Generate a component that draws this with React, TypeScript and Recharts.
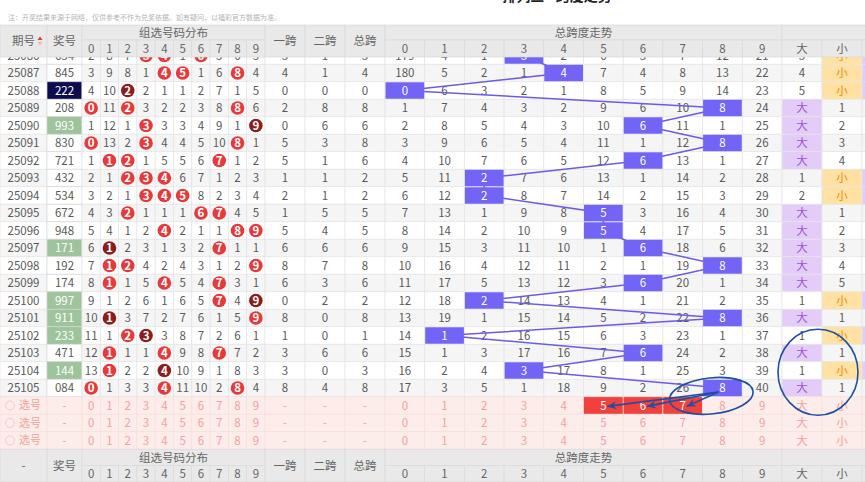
import { ComposedChart, XAxis, YAxis, Scatter, ReferenceLine, ReferenceDot } from 'recharts';

// ---- data ----
const PERIODS = [
  '25086', '25087', '25088', '25089', '25090', '25091', '25092', '25093', '25094', '25095',
  '25096', '25097', '25098', '25099', '25100', '25101', '25102', '25103', '25104', '25105',
];
const DRAWS = [
  '634', '845', '222', '208', '993', '830', '721', '432', '534', '672',
  '948', '171', '192', '174', '997', '911', '233', '471', '144', '084',
];
const YI_KUA = [3, 4, 0, 2, 0, 5, 5, 1, 2, 1, 5, 6, 8, 6, 0, 8, 1, 3, 3, 8];
const ER_KUA = [1, 1, 0, 8, 6, 3, 1, 1, 1, 5, 4, 6, 7, 3, 2, 0, 0, 6, 0, 4];
const ZONG_KUA = [3, 4, 0, 8, 6, 8, 6, 2, 2, 5, 5, 6, 8, 6, 2, 8, 1, 6, 3, 8];

// omission counts for digits 0-9 (0 = hit)
const DIST_MISS = [
  [2, 8, 7, 0, 0, 1, 0, 5, 6, 3],
  [3, 9, 8, 1, 0, 0, 1, 6, 0, 4],
  [4, 10, 0, 2, 1, 1, 2, 7, 1, 5],
  [0, 11, 0, 3, 2, 2, 3, 8, 0, 6],
  [1, 12, 1, 0, 3, 3, 4, 9, 1, 0],
  [0, 13, 2, 0, 4, 4, 5, 10, 0, 1],
  [1, 0, 0, 1, 5, 5, 6, 0, 1, 2],
  [2, 1, 0, 0, 0, 6, 7, 1, 2, 3],
  [3, 2, 1, 0, 0, 0, 8, 2, 3, 4],
  [4, 3, 0, 1, 1, 1, 0, 0, 4, 5],
  [5, 4, 1, 2, 0, 2, 1, 1, 0, 0],
  [6, 0, 2, 3, 1, 3, 2, 0, 1, 1],
  [7, 0, 0, 4, 2, 4, 3, 1, 2, 0],
  [8, 0, 1, 5, 0, 5, 4, 0, 3, 1],
  [9, 1, 2, 6, 1, 6, 5, 0, 4, 0],
  [10, 0, 3, 7, 2, 7, 6, 1, 5, 0],
  [11, 1, 0, 0, 3, 8, 7, 2, 6, 1],
  [12, 0, 1, 1, 0, 9, 8, 0, 7, 2],
  [13, 0, 2, 2, 0, 10, 9, 1, 8, 3],
  [0, 1, 3, 3, 0, 11, 10, 2, 0, 4],
];

// omission counts for span 0-9 (0 = hit)
const TREND_MISS = [
  [179, 4, 1, 0, 2, 6, 3, 7, 12, 21],
  [180, 5, 2, 1, 0, 7, 4, 8, 13, 22],
  [0, 6, 3, 2, 1, 8, 5, 9, 14, 23],
  [1, 7, 4, 3, 2, 9, 6, 10, 0, 24],
  [2, 8, 5, 4, 3, 10, 0, 11, 1, 25],
  [3, 9, 6, 5, 4, 11, 1, 12, 0, 26],
  [4, 10, 7, 6, 5, 12, 0, 13, 1, 27],
  [5, 11, 0, 7, 6, 13, 1, 14, 2, 28],
  [6, 12, 0, 8, 7, 14, 2, 15, 3, 29],
  [7, 13, 1, 9, 8, 0, 3, 16, 4, 30],
  [8, 14, 2, 10, 9, 0, 4, 17, 5, 31],
  [9, 15, 3, 11, 10, 1, 0, 18, 6, 32],
  [10, 16, 4, 12, 11, 2, 1, 19, 0, 33],
  [11, 17, 5, 13, 12, 3, 0, 20, 1, 34],
  [12, 18, 0, 14, 13, 4, 1, 21, 2, 35],
  [13, 19, 1, 15, 14, 5, 2, 22, 0, 36],
  [14, 0, 2, 16, 15, 6, 3, 23, 1, 37],
  [15, 1, 3, 17, 16, 7, 0, 24, 2, 38],
  [16, 2, 4, 0, 17, 8, 1, 25, 3, 39],
  [17, 3, 5, 1, 18, 9, 2, 26, 0, 40],
];

// omission shown in the 大/小 column that did not hit
const BS_MISS = [3, 4, 5, 1, 2, 3, 4, 1, 2, 1, 2, 3, 4, 5, 1, 1, 1, 1, 1, 1];

const DIGITS = ['0', '1', '2', '3', '4', '5', '6', '7', '8', '9'];
const SELECT_ROWS = 3;
const PICKED_SPANS = [5, 6, 7];

const NOTE = '注：开奖结果来源于网络，仅供参考不作为兑奖依据。如有疑问，以福彩官方数据为准。';
const TITLE = '排列三 - 跨度走势';

// ---- layout ----
const W = 865;
const H = 482;
const ROW_H = 17.5;
const FIRST_ROW_CY = 55.5;
const toRow = (px: number) => (px - FIRST_ROW_CY) / ROW_H;

const QH_W = 47;
const JH_LEFT = 47;
const JH_W = 35;
const DIST_LEFT = 82;
const DIST_W = 18.3;
const KUA_LEFT = 265;
const KUA_W = 40;
const TREND_LEFT = 385;
const TREND_W = 39.7;
const BS_LEFT = 782;
const BS_W = 40;

const distX = (d: number) => DIST_LEFT + (d + 0.5) * DIST_W;
const kuaX = (k: number) => KUA_LEFT + (k + 0.5) * KUA_W;
const trendX = (d: number) => TREND_LEFT + (d + 0.5) * TREND_W;
const bsX = (k: number) => BS_LEFT + (k + 0.5) * BS_W;

const FONT = '"Noto Sans CJK SC", "Noto Sans", sans-serif';
const TXT = '#5a5a5a';
const GRID = '#e4e4e4';
const STRIPE = '#f5f5f5';
const HEAD_BG = '#e9e9e9';
const HEAD_TXT = '#666';
const HIT_BG = '#7265f5';
const LINE_C = '#6a5be8';
const RED = '#e8393a';
const DARK_RED = '#8c1d1d';
const SEL_BG = '#fdedea';
const SEL_TXT = '#f3a29e';
const ANN = '#1d4fa3';

type Cell = {
  x: number;
  y: number;
  w: number;
  h: number;
  fill?: string;
  stroke?: string;
  text?: string;
  color?: string;
  size?: number;
  weight?: number | string;
  anchor?: string;
  ball?: string;
  ring?: string;
  sort?: boolean;
};

const bodyCells: Cell[] = [];
const hitCells: Cell[] = [];
const trendPath: { x: number; y: number }[] = [];

PERIODS.forEach((period, i) => {
  const bg = i % 2 === 1 ? STRIPE : '#ffffff';
  const base = { y: i, h: ROW_H, stroke: GRID };
  bodyCells.push({ ...base, x: QH_W / 2, w: QH_W, fill: bg, text: period, color: TXT });

  const digits = DRAWS[i].split('');
  const count = (d: string) => digits.filter((v) => v === d).length;
  const maxCount = Math.max(...digits.map(count));
  const drawFill = maxCount === 3 ? '#0c0c4f' : maxCount === 2 ? '#9ec49c' : '#ffffff';
  bodyCells.push({
    ...base,
    x: JH_LEFT + JH_W / 2,
    w: JH_W,
    fill: drawFill,
    stroke: '#d6d6d6',
    text: DRAWS[i],
    color: maxCount > 1 ? '#ffffff' : TXT,
  });

  DIGITS.forEach((d, k) => {
    const miss = DIST_MISS[i][k];
    if (miss === 0) {
      bodyCells.push({
        ...base,
        x: distX(k),
        w: DIST_W,
        fill: bg,
        ball: count(d) > 1 ? DARK_RED : RED,
        text: d,
        color: '#ffffff',
        weight: 'bold',
      });
    } else {
      bodyCells.push({ ...base, x: distX(k), w: DIST_W, fill: bg, text: String(miss), color: TXT });
    }
  });

  [YI_KUA[i], ER_KUA[i], ZONG_KUA[i]].forEach((v, k) => {
    bodyCells.push({ ...base, x: kuaX(k), w: KUA_W, fill: bg, text: String(v), color: TXT });
  });

  DIGITS.forEach((d, k) => {
    const miss = TREND_MISS[i][k];
    if (k === ZONG_KUA[i]) {
      bodyCells.push({ ...base, x: trendX(k), w: TREND_W, fill: bg });
      hitCells.push({ x: trendX(k), y: i, w: TREND_W - 1, h: ROW_H - 1, fill: HIT_BG, text: d, color: '#ffffff' });
    } else {
      bodyCells.push({ ...base, x: trendX(k), w: TREND_W, fill: bg, text: String(miss), color: TXT });
    }
  });
  trendPath.push({ x: trendX(ZONG_KUA[i]), y: i });

  const big = ZONG_KUA[i] >= 5;
  bodyCells.push(
    big
      ? { ...base, x: bsX(0), w: BS_W, fill: '#e3cdf8', text: '大', color: '#9d52d6' }
      : { ...base, x: bsX(0), w: BS_W, fill: bg, text: String(BS_MISS[i]), color: TXT },
  );
  bodyCells.push(
    !big
      ? { ...base, x: bsX(1), w: BS_W, fill: '#ffe2a3', text: '小', color: '#ef8c0a' }
      : { ...base, x: bsX(1), w: BS_W, fill: bg, text: String(BS_MISS[i]), color: TXT },
  );
  bodyCells.push({ ...base, x: bsX(2), w: BS_W, fill: big ? bg : '#e3cdf8' });
});

for (let s = 0; s < SELECT_ROWS; s++) {
  const y = PERIODS.length + s;
  const base = { y, h: ROW_H, stroke: '#f6dedb', fill: SEL_BG, color: SEL_TXT };
  bodyCells.push({ ...base, x: QH_W / 2, w: QH_W });
  bodyCells.push({ x: 10, y, w: 0, h: 0, ring: '#f7c9c5' });
  bodyCells.push({ x: 30, y, w: 0, h: 0, text: '选号', color: SEL_TXT, size: 11 });
  bodyCells.push({ ...base, x: JH_LEFT + JH_W / 2, w: JH_W, text: '-' });
  DIGITS.forEach((d, k) => bodyCells.push({ ...base, x: distX(k), w: DIST_W, text: d }));
  [0, 1, 2].forEach((k) => bodyCells.push({ ...base, x: kuaX(k), w: KUA_W, text: '-' }));
  DIGITS.forEach((d, k) => {
    if (s === 0 && PICKED_SPANS.includes(k)) {
      bodyCells.push({ ...base, x: trendX(k), w: TREND_W, fill: '#f0413d', text: d, color: '#ffffff' });
    } else {
      bodyCells.push({ ...base, x: trendX(k), w: TREND_W, text: d });
    }
  });
  bodyCells.push({ ...base, x: bsX(0), w: BS_W, text: '大' });
  bodyCells.push({ ...base, x: bsX(1), w: BS_W, text: '小' });
  bodyCells.push({ ...base, x: bsX(2), w: BS_W });
}

// header (top) and repeated header (bottom)
const headerCells: Cell[] = [];
const addHeader = (top: number, mid: number, bottom: number, firstLabel: string, sort: boolean) => {
  const hb = { fill: HEAD_BG, stroke: '#d9d9d9', color: HEAD_TXT, size: 11.5 };
  const full = { ...hb, y: toRow((top + bottom) / 2), h: bottom - top };
  const upper = { ...hb, y: toRow((top + mid) / 2), h: mid - top };
  const lower = { ...hb, y: toRow((mid + bottom) / 2), h: bottom - mid };
  headerCells.push({ ...full, x: QH_W / 2, w: QH_W, text: firstLabel });
  if (sort) headerCells.push({ x: 40, y: toRow((top + bottom) / 2), w: 0, h: 0, sort: true });
  headerCells.push({ ...full, x: JH_LEFT + JH_W / 2, w: JH_W, text: '奖号' });
  headerCells.push({ ...upper, x: DIST_LEFT + 5 * DIST_W, w: 10 * DIST_W, text: '组选号码分布' });
  DIGITS.forEach((d, k) => headerCells.push({ ...lower, x: distX(k), w: DIST_W, text: d }));
  ['一跨', '二跨', '总跨'].forEach((t, k) => headerCells.push({ ...full, x: kuaX(k), w: KUA_W, text: t }));
  headerCells.push({ ...upper, x: TREND_LEFT + 5 * TREND_W, w: 10 * TREND_W, text: '总跨度走势' });
  DIGITS.forEach((d, k) => headerCells.push({ ...lower, x: trendX(k), w: TREND_W, text: d }));
  headerCells.push({ ...upper, x: BS_LEFT + 1.5 * BS_W, w: 3 * BS_W });
  ['大', '小'].forEach((t, k) => headerCells.push({ ...lower, x: bsX(k), w: BS_W, text: t }));
  headerCells.push({ ...lower, x: bsX(2), w: BS_W });
};
addHeader(25, 40, 57, '期号', true);
addHeader(449.25, 465.5, 482, '-', false);
headerCells.push({ x: 8, y: toRow(17.5), w: 0, h: 0, text: NOTE, color: '#b4b4b4', size: 7, anchor: 'start' });
headerCells.push({ x: 557, y: toRow(-4), w: 0, h: 0, text: TITLE, color: '#222', size: 14, weight: 'bold' });

const SEPARATORS = [QH_W, DIST_LEFT, KUA_LEFT, KUA_LEFT + KUA_W, KUA_LEFT + 2 * KUA_W, TREND_LEFT, BS_LEFT, BS_LEFT + 2 * BS_W];

// hand-drawn annotation arrows: from the last hit cell to the picked spans
const ARROW_FROM = { x: trendX(8) - 4, y: 19.23 };
const ARROWS = PICKED_SPANS.map((d) => {
  const to = { x: trendX(d) + 4, y: 20.05 };
  const angle = (Math.atan2((to.y - ARROW_FROM.y) * ROW_H, to.x - ARROW_FROM.x) * 180) / Math.PI;
  return [ARROW_FROM, { ...to, head: angle }];
});

function CellShape(props: any) {
  const { cx, cy, payload } = props;
  const c = payload as Cell;
  if (cx == null || cy == null || !c) return <g />;
  return (
    <g>
      {c.fill && (
        <rect
          x={cx - c.w / 2}
          y={cy - c.h / 2}
          width={c.w}
          height={c.h}
          fill={c.fill}
          stroke={c.stroke ?? 'none'}
          strokeWidth={0.7}
        />
      )}
      {c.ball && <circle cx={cx} cy={cy} r={6.8} fill={c.ball} />}
      {c.ring && <circle cx={cx} cy={cy} r={4.5} fill="none" stroke={c.ring} strokeWidth={1} />}
      {c.sort && (
        <g>
          <path d={`M${cx - 2.5},${cy - 1} L${cx + 2.5},${cy - 1} L${cx},${cy - 4.5} Z`} fill="#e8393a" />
          <path d={`M${cx - 2.5},${cy + 1} L${cx + 2.5},${cy + 1} L${cx},${cy + 4.5} Z`} fill="#f5b5b5" />
        </g>
      )}
      {c.text != null && (
        <text
          x={cx}
          y={cy}
          dy="0.36em"
          textAnchor={(c.anchor as any) ?? 'middle'}
          fontSize={c.size ?? 11.5}
          fontWeight={c.weight ?? 'normal'}
          fill={c.color ?? TXT}
          fontFamily={FONT}
        >
          {c.text}
        </text>
      )}
    </g>
  );
}

const renderCell = (props: any) => <CellShape {...props} />;
const renderNothing = () => <g />;

const renderArrowHead = (props: any) => {
  const { cx, cy, payload } = props;
  if (payload?.head == null) return <g />;
  return (
    <path
      d="M0,0 L-9,-4 L-6,0 L-9,4 Z"
      fill={ANN}
      transform={`translate(${cx} ${cy}) rotate(${payload.head})`}
    />
  );
};

const Ellipse = (rx: number, ry: number, rotate: number) => (props: any) => {
  const { cx, cy } = props;
  return (
    <ellipse
      cx={cx}
      cy={cy}
      rx={rx}
      ry={ry}
      fill="none"
      stroke={ANN}
      strokeWidth={1.6}
      transform={`rotate(${rotate} ${cx} ${cy})`}
    />
  );
};

export default function App() {
  return (
    <div style={{ position: 'absolute', left: 0, top: 0, width: W, height: H, background: '#fff', fontFamily: FONT }}>
      <ComposedChart width={W} height={H} margin={{ top: 0, right: 0, bottom: 0, left: 0 }}>
        <XAxis type="number" dataKey="x" domain={[0, W]} hide allowDataOverflow />
        <YAxis type="number" dataKey="y" domain={[toRow(0), toRow(H)]} reversed hide allowDataOverflow />
        <Scatter data={bodyCells} shape={renderCell} isAnimationActive={false} />
        <Scatter
          data={trendPath}
          shape={renderNothing}
          line={{ stroke: LINE_C, strokeWidth: 1.5 }}
          isAnimationActive={false}
        />
        <Scatter data={hitCells} shape={renderCell} isAnimationActive={false} />
        <Scatter data={headerCells} shape={renderCell} isAnimationActive={false} />
        {SEPARATORS.map((x) => (
          <ReferenceLine
            key={`s${x}`}
            segment={[{ x, y: toRow(25) }, { x, y: toRow(H) }]}
            stroke="#c2c2c2"
            strokeWidth={1.6}
          />
        ))}
        {ARROWS.map((pts, k) => (
          <Scatter
            key={`a${k}`}
            data={pts}
            shape={renderArrowHead}
            line={{ stroke: ANN, strokeWidth: 1.6 }}
            isAnimationActive={false}
          />
        ))}
        <ReferenceDot x={trendX(7.72)} y={19.45} r={1} shape={Ellipse(42, 18, -6)} />
        <ReferenceDot x={BS_LEFT + 36} y={18.1} r={1} shape={Ellipse(40, 43, 0)} />
      </ComposedChart>
    </div>
  );
}
